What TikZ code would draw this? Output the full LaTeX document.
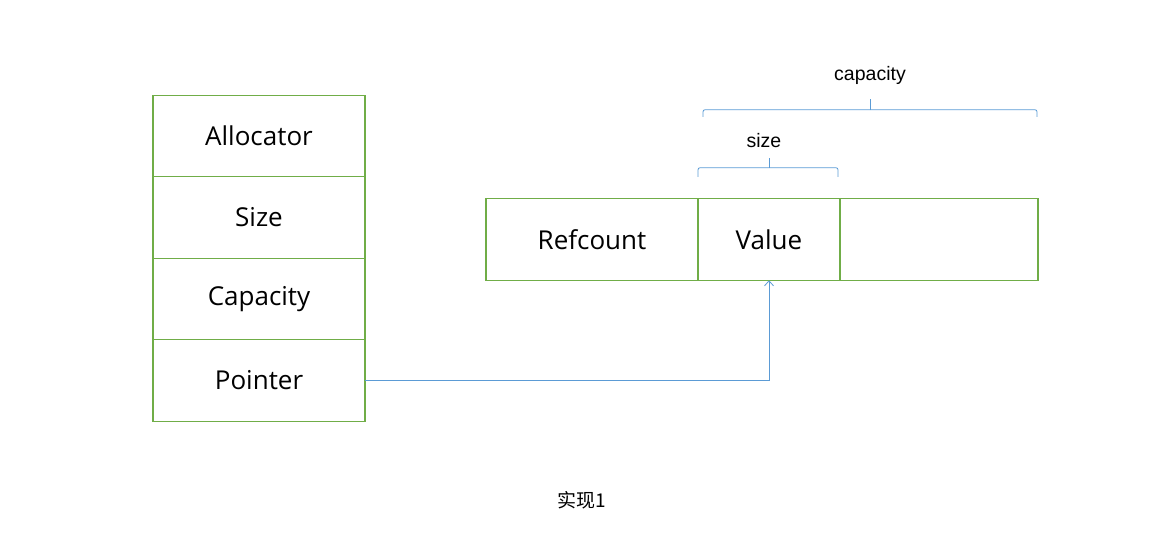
\documentclass[tikz,border=0pt]{standalone}
\usepackage{fontspec}
\setmainfont{Open Sans}
\newfontfamily\arialfont{Liberation Sans}
\newfontfamily\cjk{Noto Sans CJK SC}
\usepackage{tikz}
\usetikzlibrary{arrows.meta,positioning,calc}
\definecolor{cgreen}{HTML}{70AD47}
\definecolor{cblue}{HTML}{5B9BD5}

\begin{document}
\begin{tikzpicture}[x=1pt,y=-1pt,
    cell/.style={draw=cgreen,line width=1.2pt,inner sep=0pt,outer sep=0pt,
                 minimum height=81.5pt,font=\fontsize{26}{30}\selectfont},
    brace/.style={draw=cblue,line width=0.8pt,rounded corners=2pt},
    lbl/.style={font=\arialfont\fontsize{19.5}{22}\selectfont}]
  \useasboundingbox (0,0) rectangle (1159,535);
  % left stack
  \node[cell,minimum width=212pt] (alloc) at (259,136) {Allocator};
  \node[cell,minimum width=212pt,below=0pt of alloc] (size) {Size};
  \node[cell,minimum width=212pt,below=0pt of size] (cap) {Capacity};
  \node[cell,minimum width=212pt,below=0pt of cap] (ptr) {Pointer};
  % buffer
  \node[cell,minimum width=212pt] (ref) at (592,239.5) {Refcount};
  \node[cell,minimum width=142pt,right=0pt of ref] (val) {Value};
  \node[cell,minimum width=198pt,right=0pt of val] (rest) {};
  % braces
  \draw[brace] ($(val.north west)+(0,-22)$) -- ++(0,-9) -| ($(val.north east)+(-2,-22)$);
  \draw[brace] ($(val.north)+(0,-31)$) -- ++(0,-10) coordinate (sizetop);
  \node[lbl,above=7pt of sizetop,xshift=-5pt] (sizelbl) {size};
  \draw[brace] ($(val.north west)+(5,-82)$) -- ++(0,-7) -| ($(rest.north east)+(-1,-82)$);
  \draw[brace] (870,110) -- (870,99) coordinate (captop);
  \node[lbl,above=11pt of captop] (caplbl) {capacity};
  % pointer
  \draw[cblue,line width=0.8pt,-{Straight Barb[length=5pt,width=9pt]}]
    (ptr.east) -| (val.south);
  \node[font=\cjk\fontsize{19}{21}\selectfont] (title) at (582,500) {实现1};
\end{tikzpicture}
\end{document}
